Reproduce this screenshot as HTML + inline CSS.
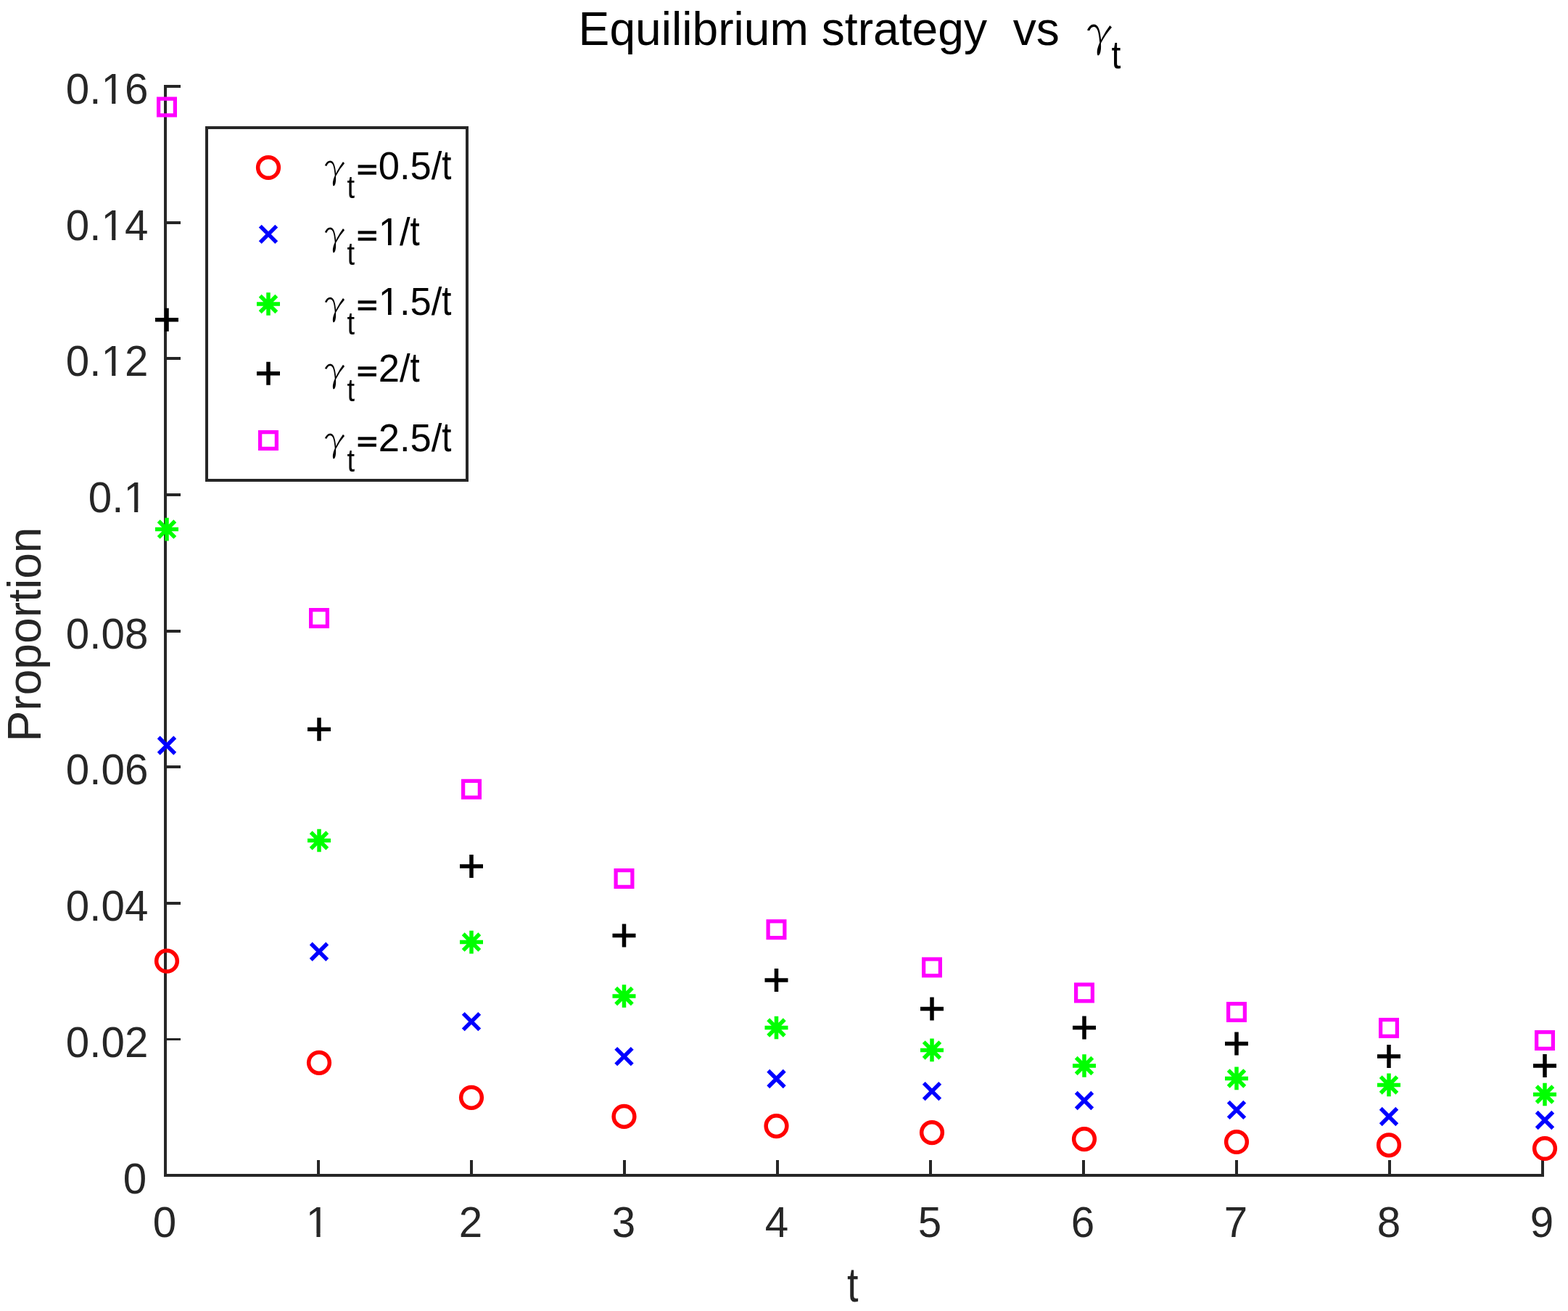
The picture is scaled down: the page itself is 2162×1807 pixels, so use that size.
<!DOCTYPE html>
<html lang="en"><head><meta charset="utf-8">
<title>Equilibrium strategy vs gamma_t</title>
<style>
html,body{margin:0;padding:0;background:#fff;}
body{width:2162px;height:1807px;overflow:hidden;}
svg{display:block;}
text{font-family:"Liberation Sans",sans-serif;}
.tk{font-size:58.33px;fill:#262626;}
.lb{font-size:64.17px;fill:#262626;}
.ti{font-size:64.17px;fill:#000;}
.lg{font-size:52.5px;fill:#000;}
.gm{font-family:"IPAGothic","Noto Serif CJK SC","Liberation Serif",serif;font-size:100px;fill:#000;}
</style></head><body>
<svg width="2162" height="1807" viewBox="0 0 2162 1807">
<defs><clipPath id="k1"><path clip-rule="evenodd" d="M-400-200H400V100H-400ZM-29.900 -5.000H-17.772V1.000H-29.900ZM-12.617 -5.000H-0.900V1.000H-12.617Z"/></clipPath><clipPath id="k2"><path clip-rule="evenodd" d="M-400-200H400V100H-400ZM-62.400 -5.000H-50.213V1.000H-62.400ZM-45.058 -5.000H-33.400V1.000H-45.058Z"/></clipPath><clipPath id="k3"><path clip-rule="evenodd" d="M-400-200H400V100H-400ZM-62.400 -5.100H-50.213V1.900H-62.400ZM-45.058 -5.100H-33.400V1.900H-45.058Z"/></clipPath><clipPath id="k4"><path clip-rule="evenodd" d="M-400-200H400V100H-400ZM-13.000 -5.100H-1.552V1.900H-13.000ZM3.603 -5.100H15.000V1.900H3.603Z"/></clipPath><clipPath id="k5"><path clip-rule="evenodd" d="M-400-200H400V100H-400ZM2.200 -4.020H13.202V1.863H2.200ZM17.842 -4.020H28.200V1.863H17.842Z"/></clipPath><clipPath id="k6"><path clip-rule="evenodd" d="M-400-200H400V100H-400ZM2.200 -4.902H13.202V0.980H2.200ZM17.842 -4.902H28.200V0.980H17.842Z"/></clipPath></defs>
<rect width="2162" height="1807" fill="#fff"/>
<g fill="#262626" shape-rendering="crispEdges">
<rect x="226" y="117" width="4" height="1505"/>
<rect x="226" y="1618" width="1903" height="4"/>
<rect x="437" y="1599" width="4" height="21"/>
<rect x="648" y="1599" width="4" height="21"/>
<rect x="859" y="1599" width="4" height="21"/>
<rect x="1070" y="1599" width="4" height="21"/>
<rect x="1281" y="1599" width="4" height="21"/>
<rect x="1492" y="1599" width="4" height="21"/>
<rect x="1703" y="1599" width="4" height="21"/>
<rect x="1914" y="1599" width="4" height="21"/>
<rect x="2125" y="1599" width="4" height="21"/>
<rect x="228" y="1431" width="21" height="3"/>
<rect x="228" y="1243" width="21" height="4"/>
<rect x="228" y="1055" width="21" height="4"/>
<rect x="228" y="868" width="21" height="4"/>
<rect x="228" y="680" width="21" height="4"/>
<rect x="228" y="492" width="21" height="4"/>
<rect x="228" y="305" width="21" height="4"/>
<rect x="228" y="117" width="21" height="4"/>
</g>
<text class="tk" transform="translate(202.2,1644.6)" text-anchor="end">0</text>
<text class="tk" transform="translate(204.4,1457.4)" text-anchor="end">0.02</text>
<text class="tk" transform="translate(204.4,1269.2)" text-anchor="end">0.04</text>
<text class="tk" transform="translate(204.4,1081)" text-anchor="end">0.06</text>
<text class="tk" transform="translate(204.4,893.6)" text-anchor="end">0.08</text>
<text class="tk" transform="translate(202.9,706)" text-anchor="end" clip-path="url(#k1)">0.1</text>
<text class="tk" transform="translate(204.4,518)" text-anchor="end" clip-path="url(#k2)">0.12</text>
<text class="tk" transform="translate(204.4,331)" text-anchor="end" clip-path="url(#k2)">0.14</text>
<text class="tk" transform="translate(204.4,143.1)" text-anchor="end" clip-path="url(#k3)">0.16</text>
<text class="tk" transform="translate(227,1705.1)" text-anchor="middle">0</text>
<text class="tk" transform="translate(438,1705.1)" text-anchor="middle" clip-path="url(#k4)">1</text>
<text class="tk" transform="translate(649,1705.1)" text-anchor="middle">2</text>
<text class="tk" transform="translate(860,1705.1)" text-anchor="middle">3</text>
<text class="tk" transform="translate(1071,1705.1)" text-anchor="middle">4</text>
<text class="tk" transform="translate(1282,1705.1)" text-anchor="middle">5</text>
<text class="tk" transform="translate(1493,1705.1)" text-anchor="middle">6</text>
<text class="tk" transform="translate(1704,1705.1)" text-anchor="middle">7</text>
<text class="tk" transform="translate(1915,1705.1)" text-anchor="middle">8</text>
<text class="tk" transform="translate(2126,1705.1)" text-anchor="middle">9</text>
<text class="lb" transform="translate(1175.8,1794.3) scale(0.87,1.036)" text-anchor="middle">t</text>
<text class="lb" transform="translate(56,874.5) rotate(-90) scale(1,1.015)" text-anchor="middle">Proportion</text>
<g><text class="ti" transform="translate(797.6,62.3) scale(1,1.015)" xml:space="preserve" style="white-space:pre">Equilibrium strategy  vs  </text><text class="gm" transform="translate(1487.30,70.51) scale(0.6239,0.7078) skewX(5)" stroke="#fff" stroke-width="3">γ</text><text class="ti" transform="translate(1532.4,94) scale(1,1.17)" style="font-size:46.4px">t</text></g>
<g>
<circle cx="230" cy="1324.7" r="14.35" fill="none" stroke="#ff0000" stroke-width="5.5"/>
<circle cx="440" cy="1464.8" r="14.35" fill="none" stroke="#ff0000" stroke-width="5.5"/>
<circle cx="650" cy="1512.8" r="14.35" fill="none" stroke="#ff0000" stroke-width="5.5"/>
<circle cx="860.5" cy="1538.9" r="14.35" fill="none" stroke="#ff0000" stroke-width="5.5"/>
<circle cx="1070.5" cy="1552.1" r="14.35" fill="none" stroke="#ff0000" stroke-width="5.5"/>
<circle cx="1285" cy="1561.1" r="14.35" fill="none" stroke="#ff0000" stroke-width="5.5"/>
<circle cx="1495" cy="1570.1" r="14.35" fill="none" stroke="#ff0000" stroke-width="5.5"/>
<circle cx="1705" cy="1574" r="14.35" fill="none" stroke="#ff0000" stroke-width="5.5"/>
<circle cx="1915" cy="1578.3" r="14.35" fill="none" stroke="#ff0000" stroke-width="5.5"/>
<circle cx="2130" cy="1583" r="14.35" fill="none" stroke="#ff0000" stroke-width="5.5"/>
<path d="M218.75 1016.25L241.25 1038.75M218.75 1038.75L241.25 1016.25" fill="none" stroke="#0000ff" stroke-width="5.5"/>
<path d="M428.75 1300.55L451.25 1323.05M428.75 1323.05L451.25 1300.55" fill="none" stroke="#0000ff" stroke-width="5.5"/>
<path d="M638.75 1396.85L661.25 1419.35M638.75 1419.35L661.25 1396.85" fill="none" stroke="#0000ff" stroke-width="5.5"/>
<path d="M849.25 1444.85L871.75 1467.35M849.25 1467.35L871.75 1444.85" fill="none" stroke="#0000ff" stroke-width="5.5"/>
<path d="M1059.25 1475.75L1081.75 1498.25M1059.25 1498.25L1081.75 1475.75" fill="none" stroke="#0000ff" stroke-width="5.5"/>
<path d="M1273.75 1492.85L1296.25 1515.35M1273.75 1515.35L1296.25 1492.85" fill="none" stroke="#0000ff" stroke-width="5.5"/>
<path d="M1483.75 1505.75L1506.25 1528.25M1483.75 1528.25L1506.25 1505.75" fill="none" stroke="#0000ff" stroke-width="5.5"/>
<path d="M1693.75 1518.65L1716.25 1541.15M1693.75 1541.15L1716.25 1518.65" fill="none" stroke="#0000ff" stroke-width="5.5"/>
<path d="M1903.75 1527.75L1926.25 1550.25M1903.75 1550.25L1926.25 1527.75" fill="none" stroke="#0000ff" stroke-width="5.5"/>
<path d="M2118.75 1532.75L2141.25 1555.25M2118.75 1555.25L2141.25 1532.75" fill="none" stroke="#0000ff" stroke-width="5.5"/>
<path d="M214 729.6H246M230 713.8V745.4M218.7 718.3L241.3 740.9M218.7 740.9L241.3 718.3" fill="none" stroke="#00ff00" stroke-width="5.5"/>
<path d="M424 1158.5H456M440 1142.7V1174.3M428.7 1147.2L451.3 1169.8M428.7 1169.8L451.3 1147.2" fill="none" stroke="#00ff00" stroke-width="5.5"/>
<path d="M634 1298.6H666M650 1282.8V1314.4M638.7 1287.3L661.3 1309.9M638.7 1309.9L661.3 1287.3" fill="none" stroke="#00ff00" stroke-width="5.5"/>
<path d="M844.5 1373H876.5M860.5 1357.2V1388.8M849.2 1361.7L871.8 1384.3M849.2 1384.3L871.8 1361.7" fill="none" stroke="#00ff00" stroke-width="5.5"/>
<path d="M1054.5 1416.5H1086.5M1070.5 1400.7V1432.3M1059.2 1405.2L1081.8 1427.8M1059.2 1427.8L1081.8 1405.2" fill="none" stroke="#00ff00" stroke-width="5.5"/>
<path d="M1269 1447.4H1301M1285 1431.6V1463.2M1273.7 1436.1L1296.3 1458.7M1273.7 1458.7L1296.3 1436.1" fill="none" stroke="#00ff00" stroke-width="5.5"/>
<path d="M1479 1469H1511M1495 1453.2V1484.8M1483.7 1457.7L1506.3 1480.3M1483.7 1480.3L1506.3 1457.7" fill="none" stroke="#00ff00" stroke-width="5.5"/>
<path d="M1689 1486.4H1721M1705 1470.6V1502.2M1693.7 1475.1L1716.3 1497.7M1693.7 1497.7L1716.3 1475.1" fill="none" stroke="#00ff00" stroke-width="5.5"/>
<path d="M1899 1495.4H1931M1915 1479.6V1511.2M1903.7 1484.1L1926.3 1506.7M1903.7 1506.7L1926.3 1484.1" fill="none" stroke="#00ff00" stroke-width="5.5"/>
<path d="M2114 1508.5H2146M2130 1492.7V1524.3M2118.7 1497.2L2141.3 1519.8M2118.7 1519.8L2141.3 1497.2" fill="none" stroke="#00ff00" stroke-width="5.5"/>
<path d="M214 440.8H246M230 424.8V456.8" fill="none" stroke="#000000" stroke-width="5.5"/>
<path d="M424 1005.3H456M440 989.3V1021.3" fill="none" stroke="#000000" stroke-width="5.5"/>
<path d="M634 1193.9H666M650 1177.9V1209.9" fill="none" stroke="#000000" stroke-width="5.5"/>
<path d="M844.5 1289.6H876.5M860.5 1273.6V1305.6" fill="none" stroke="#000000" stroke-width="5.5"/>
<path d="M1054.5 1351.1H1086.5M1070.5 1335.1V1367.1" fill="none" stroke="#000000" stroke-width="5.5"/>
<path d="M1269 1390.4H1301M1285 1374.4V1406.4" fill="none" stroke="#000000" stroke-width="5.5"/>
<path d="M1479 1416.5H1511M1495 1400.5V1432.5" fill="none" stroke="#000000" stroke-width="5.5"/>
<path d="M1689 1438.4H1721M1705 1422.4V1454.4" fill="none" stroke="#000000" stroke-width="5.5"/>
<path d="M1899 1456H1931M1915 1440V1472" fill="none" stroke="#000000" stroke-width="5.5"/>
<path d="M2114 1469H2146M2130 1453V1485" fill="none" stroke="#000000" stroke-width="5.5"/>
<rect x="218.625" y="136.125" width="22.75" height="22.75" fill="none" stroke="#ff00ff" stroke-width="5.25"/>
<rect x="428.625" y="840.625" width="22.75" height="22.75" fill="none" stroke="#ff00ff" stroke-width="5.25"/>
<rect x="638.625" y="1076.42" width="22.75" height="22.75" fill="none" stroke="#ff00ff" stroke-width="5.25"/>
<rect x="849.125" y="1199.62" width="22.75" height="22.75" fill="none" stroke="#ff00ff" stroke-width="5.25"/>
<rect x="1059.12" y="1269.83" width="22.75" height="22.75" fill="none" stroke="#ff00ff" stroke-width="5.25"/>
<rect x="1273.62" y="1322.03" width="22.75" height="22.75" fill="none" stroke="#ff00ff" stroke-width="5.25"/>
<rect x="1483.62" y="1357.03" width="22.75" height="22.75" fill="none" stroke="#ff00ff" stroke-width="5.25"/>
<rect x="1693.62" y="1383.53" width="22.75" height="22.75" fill="none" stroke="#ff00ff" stroke-width="5.25"/>
<rect x="1903.62" y="1405.53" width="22.75" height="22.75" fill="none" stroke="#ff00ff" stroke-width="5.25"/>
<rect x="2118.62" y="1422.62" width="22.75" height="22.75" fill="none" stroke="#ff00ff" stroke-width="5.25"/>
</g>
<rect x="285" y="176" width="359" height="486" fill="#fff" stroke="#262626" stroke-width="4" shape-rendering="crispEdges"/>
<circle cx="370" cy="231" r="14.35" fill="none" stroke="#ff0000" stroke-width="5.5"/>
<g><text class="gm" transform="translate(438.44,252.45) scale(0.4991,0.5745) skewX(5)" stroke="#fff" stroke-width="3">γ</text><text class="lg" transform="translate(478.4,273.1) scale(1,1.17)" style="font-size:38px">t</text><text class="lg" transform="translate(492.3,245.7) scale(0.9157,0.6936)" stroke="#000" stroke-width="2.12">=</text><text class="lg" transform="translate(521.8,247.1) scale(1,1.02)">0.5/</text><text class="lg" transform="translate(609.268,247.1) scale(0.903,1.092)">t</text></g>
<path d="M358.75 311.65L381.25 334.15M358.75 334.15L381.25 311.65" fill="none" stroke="#0000ff" stroke-width="5.5"/>
<g><text class="gm" transform="translate(438.44,344.45) scale(0.4991,0.5745) skewX(5)" stroke="#fff" stroke-width="3">γ</text><text class="lg" transform="translate(478.4,364.7) scale(1,1.17)" style="font-size:38px">t</text><text class="lg" transform="translate(492.3,336.7) scale(0.9157,0.6936)" stroke="#000" stroke-width="2.12">=</text><text class="lg" transform="translate(521.8,338.1) scale(1,1.02)" clip-path="url(#k5)">1/</text><text class="lg" transform="translate(565.484,338.1) scale(0.903,1.092)">t</text></g>
<path d="M354 419H386M370 403.2V434.8M358.7 407.7L381.3 430.3M358.7 430.3L381.3 407.7" fill="none" stroke="#00ff00" stroke-width="5.5"/>
<g><text class="gm" transform="translate(438.44,440.27) scale(0.4991,0.5712) skewX(5)" stroke="#fff" stroke-width="3">γ</text><text class="lg" transform="translate(478.4,460.7) scale(1,1.17)" style="font-size:38px">t</text><text class="lg" transform="translate(492.3,432.6) scale(0.9157,0.6936)" stroke="#000" stroke-width="2.12">=</text><text class="lg" transform="translate(521.8,434) scale(1,1.02)" clip-path="url(#k6)">1.5/</text><text class="lg" transform="translate(609.268,434) scale(0.903,1.092)">t</text></g>
<path d="M354 514.8H386M370 498.8V530.8" fill="none" stroke="#000000" stroke-width="5.5"/>
<g><text class="gm" transform="translate(438.44,532.43) scale(0.4991,0.5761) skewX(5)" stroke="#fff" stroke-width="3">γ</text><text class="lg" transform="translate(478.4,552.9) scale(1,1.17)" style="font-size:38px">t</text><text class="lg" transform="translate(492.3,524.3) scale(0.9157,0.6936)" stroke="#000" stroke-width="2.12">=</text><text class="lg" transform="translate(521.8,525.7) scale(1,1.02)">2/</text><text class="lg" transform="translate(565.484,525.7) scale(0.903,1.092)">t</text></g>
<rect x="358.625" y="595.625" width="22.75" height="22.75" fill="none" stroke="#ff00ff" stroke-width="5.25"/>
<g><text class="gm" transform="translate(438.44,628.43) scale(0.4991,0.5761) skewX(5)" stroke="#fff" stroke-width="3">γ</text><text class="lg" transform="translate(478.4,650) scale(1,1.17)" style="font-size:38px">t</text><text class="lg" transform="translate(492.3,620.5) scale(0.9157,0.6936)" stroke="#000" stroke-width="2.12">=</text><text class="lg" transform="translate(521.8,621.9) scale(1,1.02)">2.5/</text><text class="lg" transform="translate(609.268,621.9) scale(0.903,1.092)">t</text></g>
</svg></body></html>
